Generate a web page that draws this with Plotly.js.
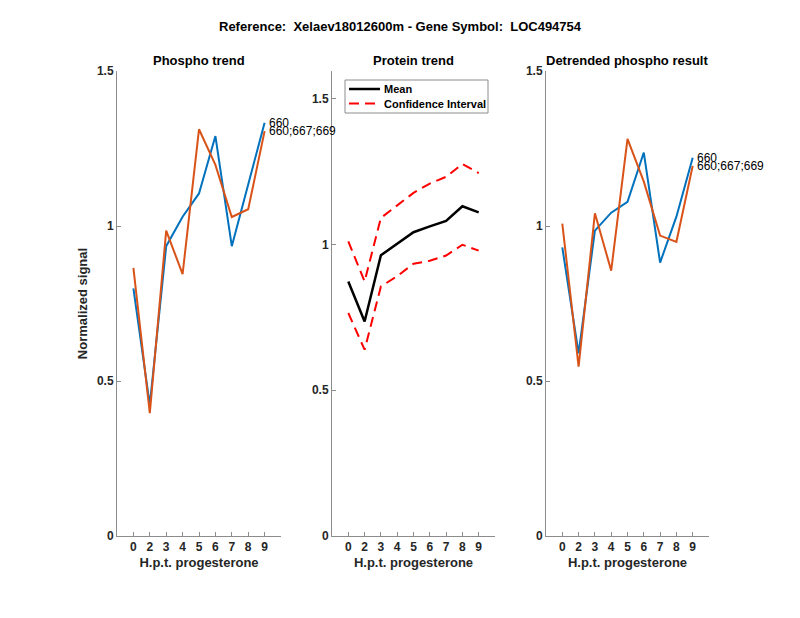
<!DOCTYPE html>
<html>
<head>
<meta charset="utf-8">
<script src="https://cdn.plot.ly/plotly-3.0.1.min.js"></script>
<style>html,body{margin:0;padding:0;background:#fff}#chart{width:800px;height:618px}</style>
</head>
<body>
<div id="chart"></div>
<script>
// ---- data ----
const timeLabels = ['0','2','3','4','5','6','7','8','9'];
const phosphoSite660      = [0.799, 0.423, 0.935, 1.030, 1.105, 1.290, 0.935, 1.134, 1.333];
const phosphoSite660_669  = [0.865, 0.396, 0.985, 0.845, 1.312, 1.197, 1.029, 1.054, 1.306];
const proteinMean         = [0.873, 0.736, 0.963, 1.003, 1.042, 1.062, 1.081, 1.131, 1.110];
const proteinUpperCI      = [1.011, 0.873, 1.091, 1.134, 1.177, 1.209, 1.232, 1.276, 1.245];
const proteinLowerCI      = [0.765, 0.639, 0.856, 0.891, 0.934, 0.944, 0.962, 0.999, 0.979];
const detrended660        = [0.931, 0.589, 0.985, 1.043, 1.078, 1.237, 0.882, 1.030, 1.220];
const detrended660_669    = [1.008, 0.546, 1.041, 0.856, 1.281, 1.143, 0.969, 0.949, 1.194];
const siteLabels = ['660', '660;667;669'];
const legendNames = ['Mean', 'Confidence Interval'];
const yTicks = [0, 0.5, 1, 1.5];

// x positions: one slot per time label
const xs = timeLabels.map((_, i) => i + 1);

const BLUE = '#0072BD', ORANGE = '#D95319', RED = '#ff0000';
const FONT = 'Liberation Sans, Arial, Helvetica, sans-serif';
const AXC = '#8c8c8c', TXT = '#262626';
const DASH = '10px,6px';

function line(x, y, color, xa, ya, width, dash) {
  return {x: x, y: y, type: 'scatter', mode: 'lines', xaxis: xa, yaxis: ya,
    line: {color: color, width: width || 2, dash: dash || 'solid'}, showlegend: false, hoverinfo: 'skip'};
}

const traces = [
  line(xs, phosphoSite660, BLUE, 'x', 'y'),
  line(xs, phosphoSite660_669, ORANGE, 'x', 'y'),
  line(xs, proteinMean, '#000', 'x2', 'y2', 2.5),
  line(xs, proteinUpperCI, RED, 'x2', 'y2', 2, DASH),
  line(xs, proteinLowerCI, RED, 'x2', 'y2', 2, DASH),
  line(xs, detrended660, BLUE, 'x3', 'y3'),
  line(xs, detrended660_669, ORANGE, 'x3', 'y3')
];

const H = 618, W = 800;
const yDom = [1 - 536 / H, 1 - 71 / H];
const px = v => v / W, py = v => 1 - v / H;

function xax(d0, d1, anchor) {
  return {
    domain: [px(d0), px(d1)], anchor: anchor, range: [0, 10],
    tickmode: 'array', tickvals: xs, ticktext: timeLabels,
    showline: true, linecolor: AXC, linewidth: 1, ticks: 'inside', ticklen: 4, tickcolor: AXC,
    showgrid: false, zeroline: false, automargin: false,
    tickfont: {family: FONT, size: 12, color: TXT, weight: 'bold'},
    title: {text: 'H.p.t. progesterone', standoff: 4, font: {family: FONT, size: 13, color: TXT, weight: 'bold'}}
  };
}
function yax(anchor, top, title) {
  const a = {
    domain: yDom, anchor: anchor, range: [0, top],
    tickmode: 'array', tickvals: yTicks, ticktext: yTicks.map(String),
    showline: true, linecolor: AXC, linewidth: 1, ticks: 'inside', ticklen: 4, tickcolor: AXC,
    showgrid: false, zeroline: false, automargin: false,
    tickfont: {family: FONT, size: 12, color: TXT, weight: 'bold'}
  };
  if (title) a.title = {text: title, standoff: 6, font: {family: FONT, size: 13, color: TXT, weight: 'bold'}};
  return a;
}

function endLabel(xa, ya, series, text) {
  return {xref: xa, yref: ya, x: xs[xs.length - 1], y: series[series.length - 1], text: text,
    showarrow: false, xanchor: 'left', yanchor: 'middle', xshift: 2,
    font: {family: FONT, size: 12, color: '#000'}};
}
function panelTitle(cx, text) {
  return {xref: 'paper', yref: 'paper', x: px(cx), y: py(61), text: text, showarrow: false,
    xanchor: 'center', yanchor: 'middle', font: {family: FONT, size: 13, color: '#000', weight: 'bold'}};
}
function legendText(yc, text) {
  return {xref: 'paper', yref: 'paper', x: px(382), y: py(yc), text: text, showarrow: false,
    xanchor: 'left', yanchor: 'middle', font: {family: FONT, size: 11, color: '#000', weight: 'bold'}};
}

const layout = {
  width: W, height: H,
  margin: {l: 0, r: 0, t: 0, b: 0},
  paper_bgcolor: '#fff', plot_bgcolor: '#fff',
  showlegend: false,
  xaxis: xax(117, 281, 'y'),
  yaxis: yax('x', 1.5, 'Normalized signal'),
  xaxis2: xax(332, 495, 'y2'),
  yaxis2: yax('x2', 1.595),
  xaxis3: xax(546, 709, 'y3'),
  yaxis3: yax('x3', 1.5),
  shapes: [
    // legend box + samples for the protein panel
    {type: 'rect', xref: 'paper', yref: 'paper', x0: px(345), x1: px(488), y0: py(80), y1: py(113),
      line: {color: AXC, width: 1}, fillcolor: '#fff', layer: 'above'},
    {type: 'line', xref: 'paper', yref: 'paper', x0: px(349), x1: px(380), y0: py(89), y1: py(89),
      line: {color: '#000', width: 2.5}, layer: 'above'},
    {type: 'line', xref: 'paper', yref: 'paper', x0: px(349), x1: px(380), y0: py(103.5), y1: py(103.5),
      line: {color: RED, width: 2, dash: DASH}, layer: 'above'}
  ],
  annotations: [
    {xref: 'paper', yref: 'paper', x: 0.5, y: py(26), text: 'Reference:  Xelaev18012600m - Gene Symbol:  LOC494754',
      showarrow: false, xanchor: 'center', yanchor: 'middle', font: {family: FONT, size: 13, color: '#000', weight: 'bold'}},
    panelTitle(199, 'Phospho trend'),
    panelTitle(413, 'Protein trend'),
    panelTitle(627, 'Detrended phospho result'),
    legendText(89, legendNames[0]),
    legendText(103.5, legendNames[1]),
    endLabel('x', 'y', phosphoSite660, siteLabels[0]),
    endLabel('x', 'y', phosphoSite660_669, siteLabels[1]),
    endLabel('x3', 'y3', detrended660, siteLabels[0]),
    endLabel('x3', 'y3', detrended660_669, siteLabels[1])
  ]
};

Plotly.newPlot('chart', traces, layout, {staticPlot: true, displayModeBar: false});
</script>
</body>
</html>
